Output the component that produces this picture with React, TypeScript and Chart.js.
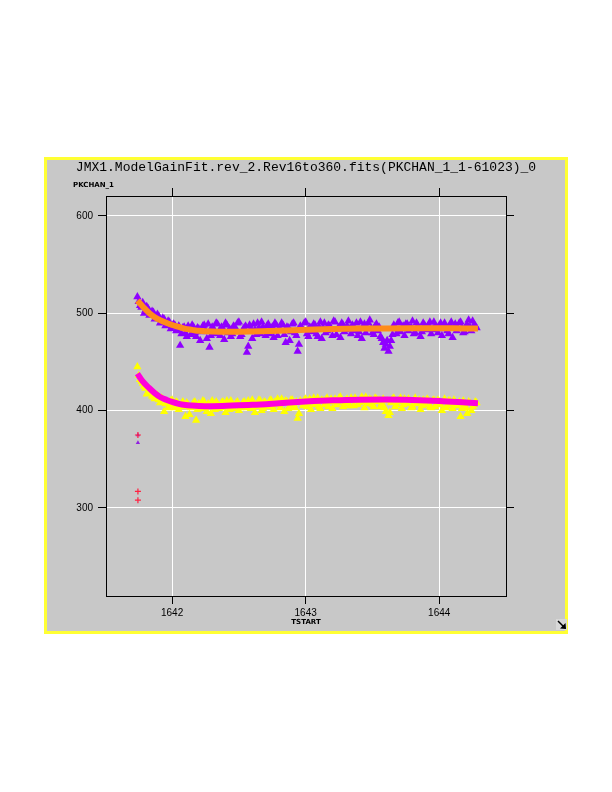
import React, { useEffect, useRef } from "react";
import { Chart, registerables } from "chart.js";

Chart.register(...registerables);

const TITLE = "JMX1.ModelGainFit.rev_2.Rev16to360.fits(PKCHAN_1_1-61023)_0";
const Y_LABEL = "PKCHAN_1";
const X_LABEL = "TSTART";
const X_TICKS = [1642, 1643, 1644];
const Y_TICKS = [300, 400, 500, 600];

const TSTART = [
  1641.74, 1641.76, 1641.78, 1641.8, 1641.82, 1641.84, 1641.86, 1641.88, 1641.9, 1641.92,
  1641.94, 1641.96, 1641.98, 1642.0, 1642.02, 1642.04, 1642.06, 1642.08, 1642.1, 1642.12,
  1642.14, 1642.16, 1642.18, 1642.2, 1642.22, 1642.24, 1642.26, 1642.28, 1642.3, 1642.32,
  1642.34, 1642.36, 1642.38, 1642.4, 1642.42, 1642.44, 1642.46, 1642.48, 1642.5, 1642.52,
  1642.54, 1642.56, 1642.58, 1642.6, 1642.62, 1642.64, 1642.66, 1642.68, 1642.7, 1642.72,
  1642.74, 1642.76, 1642.78, 1642.8, 1642.82, 1642.84, 1642.86, 1642.88, 1642.9, 1642.92,
  1642.94, 1642.96, 1642.98, 1643.0, 1643.02, 1643.04, 1643.06, 1643.08, 1643.1, 1643.12,
  1643.14, 1643.16, 1643.18, 1643.2, 1643.22, 1643.24, 1643.26, 1643.28, 1643.3, 1643.32,
  1643.34, 1643.36, 1643.38, 1643.4, 1643.42, 1643.44, 1643.46, 1643.48, 1643.5, 1643.52,
  1643.54, 1643.56, 1643.58, 1643.6, 1643.62, 1643.64, 1643.66, 1643.68, 1643.7, 1643.72,
  1643.74, 1643.76, 1643.78, 1643.8, 1643.82, 1643.84, 1643.86, 1643.88, 1643.9, 1643.92,
  1643.94, 1643.96, 1643.98, 1644.0, 1644.02, 1644.04, 1644.06, 1644.08, 1644.1, 1644.12,
  1644.14, 1644.16, 1644.18, 1644.2, 1644.22, 1644.24, 1644.26, 1644.28,
];

const PURPLE = [
  517, 508, 511, 503, 505, 499, 501, 496, 497, 492,
  494, 489, 491, 486, 488, 483, 467, 485, 480, 487,
  478, 486, 476, 484, 481, 488, 474, 465, 486, 479,
  489, 477, 484, 490, 480, 476, 487, 482, 491, 478,
  485, 460, 488, 474, 483, 490, 479, 486, 477, 489,
  481, 475, 488, 484, 490, 478, 486, 472, 489, 480,
  461, 487, 483, 491, 476, 485, 489, 479, 486, 474,
  490, 482, 487, 477, 491, 484, 475, 488, 483, 492,
  479, 486, 490, 481, 474, 489, 485, 493, 480, 487,
  482, 476, 470, 468, 461, 472, 488, 479, 491, 484,
  477, 489, 485, 492, 480, 487, 476, 490, 483, 488,
  479, 491, 484, 487, 477, 490, 482, 488, 475, 489,
  484, 491, 480, 487, 493, 482, 488, 485,
];

const YELLOW = [
  445, 432, 428, 423, 419, 421, 414, 416, 411, 413,
  399, 409, 406, 411, 403, 408, 404, 409, 394, 406,
  403, 408, 390, 407, 402, 409, 399, 405, 410, 401,
  407, 403, 409, 398, 406, 410, 402, 408, 400, 405,
  409, 403, 407, 411, 398, 405, 410, 402, 408, 404,
  411, 401, 408, 406, 412, 399, 409, 404, 411, 403,
  392, 410, 405, 412, 407, 401, 413, 408, 404, 411,
  406, 413, 409, 402, 412, 408, 414, 404, 410, 407,
  413, 405, 411, 408, 414, 403, 410, 412, 406, 413,
  409, 404, 412, 399, 395, 408, 413, 406, 411, 402,
  412, 407, 410, 404, 413, 409, 401, 411, 406, 410,
  403, 411, 407, 409, 400, 412, 405, 410, 402, 408,
  407, 394, 410, 403, 409, 400, 406, 408,
];

const TSTART_B = [
  1641.75, 1641.77, 1641.79, 1641.81, 1641.83, 1641.85, 1641.87, 1641.89, 1641.91, 1641.93,
  1641.95, 1641.97, 1641.99, 1642.01, 1642.03, 1642.05, 1642.07, 1642.09, 1642.11, 1642.13,
  1642.15, 1642.17, 1642.19, 1642.21, 1642.23, 1642.25, 1642.27, 1642.29, 1642.31, 1642.33,
  1642.35, 1642.37, 1642.39, 1642.41, 1642.43, 1642.45, 1642.47, 1642.49, 1642.51, 1642.53,
  1642.55, 1642.57, 1642.59, 1642.61, 1642.63, 1642.65, 1642.67, 1642.69, 1642.71, 1642.73,
  1642.75, 1642.77, 1642.79, 1642.81, 1642.83, 1642.85, 1642.87, 1642.89, 1642.91, 1642.93,
  1642.95, 1642.97, 1642.99, 1643.01, 1643.03, 1643.05, 1643.07, 1643.09, 1643.11, 1643.13,
  1643.15, 1643.17, 1643.19, 1643.21, 1643.23, 1643.25, 1643.27, 1643.29, 1643.31, 1643.33,
  1643.35, 1643.37, 1643.39, 1643.41, 1643.43, 1643.45, 1643.47, 1643.49, 1643.51, 1643.53,
  1643.55, 1643.57, 1643.59, 1643.61, 1643.63, 1643.65, 1643.67, 1643.69, 1643.71, 1643.73,
  1643.75, 1643.77, 1643.79, 1643.81, 1643.83, 1643.85, 1643.87, 1643.89, 1643.91, 1643.93,
  1643.95, 1643.97, 1643.99, 1644.01, 1644.03, 1644.05, 1644.07, 1644.09, 1644.11, 1644.13,
  1644.15, 1644.17, 1644.19, 1644.21, 1644.23, 1644.25, 1644.27,
];

const PURPLE_B = [
  512, 506, 500, 507, 498, 502, 494, 499, 490, 495,
  487, 492, 484, 489, 482, 487, 479, 486, 476, 484,
  488, 480, 485, 472, 487, 482, 489, 477, 484, 490,
  481, 486, 473, 488, 484, 479, 486, 490, 476, 483,
  487, 466, 484, 489, 478, 485, 491, 481, 487, 479,
  486, 490, 477, 483, 488, 470, 485, 481, 490, 477,
  468, 484, 490, 479, 486, 481, 488, 476, 491, 485,
  480, 488, 484, 492, 478, 486, 490, 481, 487, 484,
  488, 482, 477, 491, 486, 480, 490, 484, 478, 489,
  486, 474, 464, 472, 466, 478, 484, 490, 481, 487,
  489, 482, 486, 479, 490, 484, 481, 488, 485, 491,
  483, 487, 480, 490, 484, 486, 479, 491, 485, 482,
  490, 485, 481, 488, 486, 492, 487,
];

const YELLOW_B = [
  436, 430, 425, 417, 420, 415, 412, 416, 408, 412,
  407, 403, 410, 405, 409, 401, 407, 404, 408, 396,
  405, 409, 401, 406, 410, 403, 407, 397, 404, 409,
  402, 408, 404, 410, 401, 407, 405, 409, 403, 408,
  406, 410, 402, 408, 404, 411, 400, 409, 406, 410,
  404, 409, 412, 403, 408, 410, 402, 411, 406, 409,
  397, 408, 411, 404, 412, 409, 406, 413, 402, 410,
  411, 404, 412, 409, 406, 413, 410, 407, 412, 405,
  410, 413, 406, 412, 409, 414, 407, 411, 404, 412,
  411, 407, 403, 410, 398, 412, 404, 409, 413, 406,
  408, 412, 403, 410, 407, 411, 405, 409, 412, 404,
  410, 404, 411, 406, 409, 403, 410, 407, 411, 405,
  409, 402, 406, 397, 408, 404, 409,
];

const FIT_T = [
  1641.74, 1641.78, 1641.83, 1641.87, 1641.91, 1641.96, 1642.0, 1642.05, 1642.1, 1642.15,
  1642.2, 1642.3, 1642.45, 1642.6, 1642.8, 1643.0, 1643.2, 1643.4, 1643.6, 1643.8,
  1644.0, 1644.2, 1644.29,
];
const FIT_PURPLE = [
  513, 507, 500, 496, 493, 490, 488, 486, 484, 483,
  482, 481.2, 481, 481.3, 482, 483, 483.8, 484.3, 484.5, 484.6,
  484.6, 484.5, 484.5,
];
const FIT_YELLOW = [
  438, 430, 423, 418, 414, 411, 409, 407, 405.8, 405.2,
  404.8, 404.6, 405.2, 406, 407.6, 409.3, 410.6, 411.3, 411.4, 411,
  410, 408.3, 407.5,
];

const OUT_T = [1641.744, 1641.744];
const OUT_TRI = [375, 367];
const OUT_CROSS_T = [1641.744, 1641.744, 1641.744];
const OUT_CROSS = [375, 317, 308];

const pts = (xs: number[], ys: number[]) => xs.map((x, i) => ({ x, y: ys[i] }));

const decor = {
  id: "decor",
  beforeDraw(chart: any) {
    const ctx = chart.ctx;
    ctx.save();
    ctx.fillStyle = "#ffffff";
    ctx.fillRect(0, 0, 612, 792);
    ctx.fillStyle = "#c8c8c8";
    ctx.fillRect(44, 157, 524, 477);
    ctx.strokeStyle = "#ffff33";
    ctx.lineWidth = 3;
    ctx.strokeRect(45.5, 158.5, 521, 474);
    ctx.fillStyle = "#000";
    ctx.font = '13px "Liberation Mono"';
    ctx.textAlign = "center";
    ctx.textBaseline = "middle";
    ctx.fillText(TITLE, 306, 168);
    ctx.font = 'bold 7px "DejaVu Sans"';
    ctx.textAlign = "left";
    ctx.fillText(Y_LABEL, 73, 185);
    ctx.textAlign = "center";
    ctx.fillText(X_LABEL, 306, 622);
    // resize icon
    ctx.fillStyle = "#d8d8d8";
    ctx.fillRect(556, 619, 11, 11);
    ctx.strokeStyle = "#000";
    ctx.lineWidth = 1.5;
    ctx.beginPath();
    ctx.moveTo(558, 621);
    ctx.lineTo(565, 628);
    ctx.stroke();
    ctx.beginPath();
    ctx.moveTo(566, 629);
    ctx.lineTo(560, 628.5);
    ctx.lineTo(565.5, 623);
    ctx.closePath();
    ctx.fillStyle = "#000";
    ctx.fill();
    ctx.restore();
  },
};

const tickFont = { family: '"Liberation Sans"', size: 10 };

const PURPLE_COLOR = "#8f00ff";
const YELLOW_COLOR = "#ffff00";

export default function App() {
  const ref = useRef<HTMLCanvasElement | null>(null);
  useEffect(() => {
    if (!ref.current) return;
    const setTicks = (vals: number[]) => (s: any) => {
      s.ticks = vals.map((v) => ({ value: v }));
    };
    const tri = (data: any[], color: string) => ({
      data,
      pointStyle: "triangle",
      pointRadius: 4.8,
      backgroundColor: color,
      borderColor: color,
      borderWidth: 0,
    });
    const chart = new Chart(ref.current, {
      type: "scatter",
      data: {
        datasets: [
          {
            type: "line",
            data: pts(FIT_T, FIT_PURPLE),
            borderColor: "#ff8c1a",
            borderWidth: 6,
            pointRadius: 0,
            cubicInterpolationMode: "monotone",
            fill: false,
          } as any,
          {
            type: "line",
            data: pts(FIT_T, FIT_YELLOW),
            borderColor: "#ff00dd",
            borderWidth: 6,
            pointRadius: 0,
            cubicInterpolationMode: "monotone",
            fill: false,
          } as any,
          {
            data: pts(OUT_CROSS_T, OUT_CROSS),
            pointStyle: "cross",
            pointRadius: 3,
            borderColor: "#ff2040",
            borderWidth: 1.2,
          },
          {
            data: pts(OUT_T, OUT_TRI),
            pointStyle: "triangle",
            pointRadius: 2.5,
            backgroundColor: "#9020e0",
            borderWidth: 0,
          },
          tri(pts(TSTART, PURPLE), PURPLE_COLOR),
          tri(pts(TSTART_B, PURPLE_B), PURPLE_COLOR),
          tri(pts(TSTART, YELLOW), YELLOW_COLOR),
          tri(pts(TSTART_B, YELLOW_B), YELLOW_COLOR),
        ] as any,
      },
      options: {
        animation: false,
        responsive: false,
        events: [],
        layout: { padding: 0 },
        plugins: { legend: { display: false }, tooltip: { enabled: false }, title: { display: false } },
        scales: {
          x: {
            type: "linear",
            position: "bottom",
            min: 1641.505,
            max: 1644.5,
            afterBuildTicks: setTicks(X_TICKS),
            afterFit: (s: any) => { s.height = 196; },
            ticks: { color: "#000", font: tickFont, padding: 3, maxRotation: 0, autoSkip: false, callback: (v: any) => String(v) },
            grid: { color: "#ffffff", lineWidth: 1, tickColor: "#000", tickLength: 8, tickWidth: 1 },
            border: { display: true, color: "#000", width: 1 },
          },
          x2: {
            type: "linear",
            position: "top",
            min: 1641.505,
            max: 1644.5,
            afterBuildTicks: setTicks(X_TICKS),
            afterFit: (s: any) => { s.height = 196; },
            ticks: { display: false },
            grid: { drawOnChartArea: false, tickColor: "#000", tickLength: 8, tickWidth: 1 },
            border: { display: true, color: "#000", width: 1 },
          },
          y: {
            type: "linear",
            position: "left",
            min: 209.6,
            max: 620.5,
            afterBuildTicks: setTicks(Y_TICKS),
            afterFit: (s: any) => { s.width = 106; },
            ticks: { color: "#000", font: tickFont, padding: 5, autoSkip: false, callback: (v: any) => String(v) },
            grid: { color: "#ffffff", lineWidth: 1, tickColor: "#000", tickLength: 8, tickWidth: 1 },
            border: { display: true, color: "#000", width: 1 },
          },
          y2: {
            type: "linear",
            position: "right",
            min: 209.6,
            max: 620.5,
            afterBuildTicks: setTicks(Y_TICKS),
            afterFit: (s: any) => { s.width = 106; },
            ticks: { display: false },
            grid: { drawOnChartArea: false, tickColor: "#000", tickLength: 8, tickWidth: 1 },
            border: { display: true, color: "#000", width: 1 },
          },
        },
      } as any,
      plugins: [decor],
    });
    return () => chart.destroy();
  }, []);
  return (
    <div style={{ position: "absolute", left: 0, top: 0, width: 612, height: 792 }}>
      <canvas ref={ref} width={612} height={792} style={{ width: 612, height: 792, display: "block" }} />
    </div>
  );
}
